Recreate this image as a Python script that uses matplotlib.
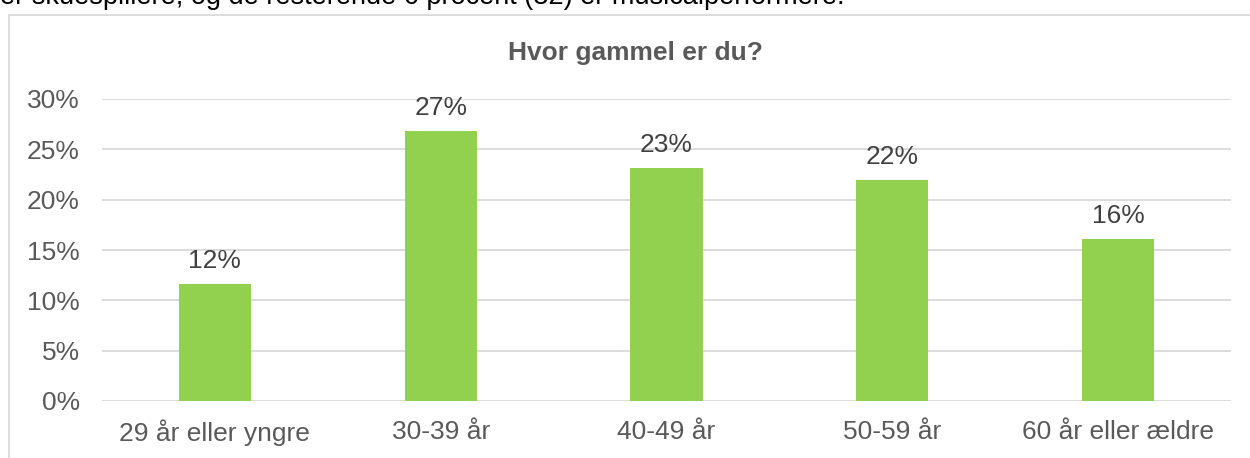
import matplotlib
matplotlib.use("Agg")
import matplotlib.pyplot as plt
from matplotlib.patches import Rectangle

categories = ["29 år eller yngre", "30-39 år", "40-49 år", "50-59 år", "60 år eller ældre"]
values = [11.6, 26.8, 23.1, 21.95, 16.1]
labels = ["12%", "27%", "23%", "22%", "16%"]
yticks = [0, 5, 10, 15, 20, 25, 30]
ytick_labels = ["0%", "5%", "10%", "15%", "20%", "25%", "30%"]

plt.rcParams['font.family'] = ['Liberation Sans', 'DejaVu Sans']

W, H = 1250, 458
fig = plt.figure(figsize=(W / 100, H / 100), dpi=100)

# chart border (extends past the right and bottom edges)
fig.patches.append(Rectangle((9 / W, -0.1), 1.2, 1 - 15 / H + 0.1,
                             transform=fig.transFigure, fill=False,
                             edgecolor='#D9D9D9', linewidth=1.3))

# partially visible text above the chart
fig.text(0 / W, 1 - 4 / H, "er skuespillere, og de resterende 6 procent (32) er musicalperformere.",
         fontsize=19.5, color='black', va='baseline', ha='left')

left, right = 102 / W, 1231 / W
bottom, top = 1 - 401 / H, 1 - 99 / H
ax = fig.add_axes([left, bottom, right - left, top - bottom])
x = list(range(len(categories)))
ax.bar(x, values, width=0.32, color='#92D050', zorder=3)
ax.set_xlim(-0.5, len(categories) - 0.5)
ax.set_ylim(0, 30)
ax.set_yticks(yticks)
ax.set_yticklabels(ytick_labels, fontsize=19, color='#595959')
ax.set_xticks(x)
ax.set_xticklabels(categories, fontsize=19, color='#595959')
ax.tick_params(axis='both', length=0)
ax.tick_params(axis='y', pad=16)
ax.tick_params(axis='x', pad=13.5)
ax.grid(axis='y', color='#D9D9D9', linewidth=1.3, zorder=0)
for s in ax.spines.values():
    s.set_visible(False)

for xi, v, lab in zip(x, values, labels):
    ax.annotate(lab, (xi, v), xytext=(0, 8), textcoords='offset points',
                ha='center', va='bottom', fontsize=19, color='#404040')

fig.text(635 / W, 1 - 53 / H, "Hvor gammel er du?", fontsize=19,
         fontweight='bold', color='#595959', ha='center', va='center')

fig.savefig("out.png", dpi=100)
